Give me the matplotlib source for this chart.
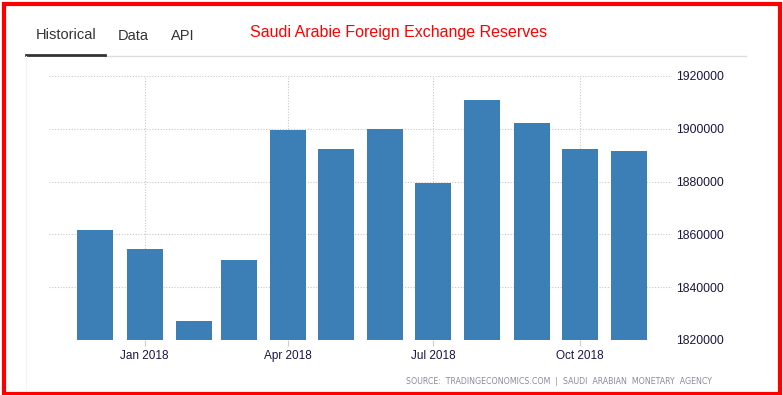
import numpy as np
import matplotlib.pyplot as plt
import matplotlib.dates as mdates
from matplotlib.patches import Rectangle
from matplotlib.lines import Line2D
import datetime as dt

# monthly reserves (millions of riyals)
months = ["2017-12", "2018-01", "2018-02", "2018-03", "2018-04", "2018-05",
          "2018-06", "2018-07", "2018-08", "2018-09", "2018-10", "2018-11"]
reserves = [1861700, 1854500, 1827200, 1850300, 1899500, 1892300,
            1899900, 1879500, 1910900, 1902200, 1892300, 1891600]
tick_months = ["2018-01", "2018-04", "2018-07", "2018-10"]
tick_labels = ["Jan 2018", "Apr 2018", "Jul 2018", "Oct 2018"]
y_ticks = [1820000, 1840000, 1860000, 1880000, 1900000, 1920000]

dates = [dt.datetime.strptime(m, "%Y-%m") for m in months]
tick_dates = [dt.datetime.strptime(m, "%Y-%m") for m in tick_months]

W, H = 783, 395
fig = plt.figure(figsize=(W / 100, H / 100), dpi=100)

ax = fig.add_axes([49 / W, 1 - 340 / H, (672 - 49) / W, (340 - 76) / H])
ax.bar(dates, reserves, width=22.5, color="#3b7fb6", zorder=2)
ax.set_xlim(dt.datetime(2017, 11, 2), dt.datetime(2018, 11, 28))
ax.set_ylim(1820000, 1920000)

ax.set_xticks(tick_dates)
ax.set_xticklabels(tick_labels, family="Liberation Sans")
ax.set_yticks(y_ticks)
ax.set_yticklabels([str(v) for v in y_ticks], family="Liberation Sans")
ax.yaxis.tick_right()
ax.tick_params(axis="y", length=0, pad=3, labelsize=8.7, labelcolor="#1c1444")
ax.tick_params(axis="x", length=4, color="#cccccc", pad=3, labelsize=8.5, labelcolor="#1c1444")
ax.grid(True, color="#c8c8c8", linestyle=(0, (1, 1.5)), linewidth=0.8, zorder=0)
for s in ax.spines.values():
    s.set_visible(False)

# tabs / header
fig.text(36 / W, 1 - 35 / H, "Historical", fontsize=10.5, color="#333333",
         family="Liberation Sans", va="center")
fig.text(118 / W, 1 - 36 / H, "Data", fontsize=10.5, color="#333333",
         family="Liberation Sans", va="center")
fig.text(171 / W, 1 - 36 / H, "API", fontsize=10.5, color="#333333",
         family="Liberation Sans", va="center")
fig.text(250 / W, 1 - 32 / H, "Saudi Arabie Foreign Exchange Reserves", fontsize=11.5,
         color="red", family="Liberation Sans", va="center")
fig.add_artist(Line2D([105 / W, 746 / W], [1 - 55.5 / H] * 2, color="#dddddd", lw=1))
fig.add_artist(Line2D([26 / W, 105 / W], [1 - 55 / H] * 2, color="#333333", lw=2))
fig.add_artist(Line2D([26 / W, 26 / W], [1 - 56 / H, 1 - 390 / H], color="#f4f4f4", lw=0.8))

fig.text(712 / W, 1 - 382 / H,
         "SOURCE:  TRADINGECONOMICS.COM  |  SAUDI  ARABIAN  MONETARY  AGENCY",
         fontsize=5.7, color="#8a8aa0", ha="right", va="center")

# red frame
fig.add_artist(Rectangle((4 / W, 1 - 393.5 / H), 776 / W, 389.5 / H,
                         transform=fig.transFigure, fill=False,
                         edgecolor="red", linewidth=3))

fig.savefig("out.png", dpi=100)
